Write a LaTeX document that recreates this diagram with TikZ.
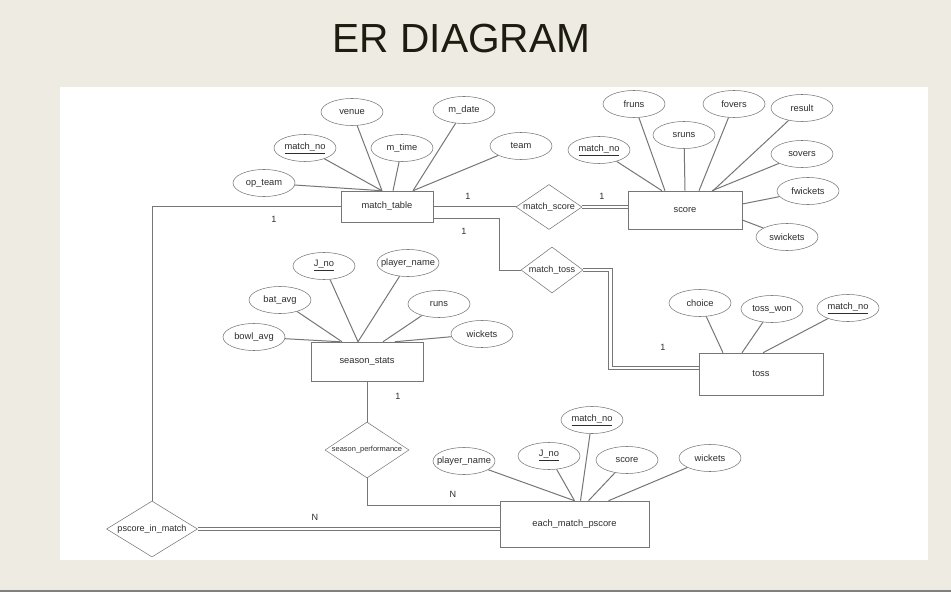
\documentclass[tikz,border=0pt]{standalone}
\usepackage{fontspec}
\setmainfont{Liberation Sans}
\usetikzlibrary{shapes.geometric, calc}

\definecolor{sfondo}{RGB}{238,235,227}
\definecolor{linea}{RGB}{118,118,118}
\definecolor{testo}{RGB}{45,45,45}
\definecolor{titolo}{RGB}{28,28,16}

\newcommand{\campo}[1]{\makebox[0pt]{#1}}
\newcommand{\chiave}[1]{\makebox[0pt]{\underline{#1}}}

\begin{document}
\begin{tikzpicture}[x=0.75pt, y=-0.75pt,
    attr/.style={draw=linea, ellipse, inner sep=0pt, minimum width=46.5pt, minimum height=20.25pt, text=testo, font=\fontsize{7}{8}\selectfont},
    ent/.style={draw=linea, rectangle, inner sep=0pt, text=testo, font=\fontsize{7}{8}\selectfont},
    rel/.style={draw=linea, diamond, inner sep=0pt, text=testo, font=\fontsize{6.8}{8}\selectfont},
    link/.style={draw=linea, line width=0.75pt},
    dlink/.style={draw=linea, line width=0.75pt, double=white, double distance=2pt},
    card/.style={text=testo, font=\fontsize{6.8}{8}\selectfont}]

    % Sfondo e pannello
    \useasboundingbox (0,0) rectangle (951,592);
    \fill[sfondo] (0,0) rectangle (951,592);
    \fill[white] (60,87) rectangle (928,560);
    \fill[gray] (0,590) rectangle (951,592);

    % Titolo
    \node[anchor=base, text=titolo, font=\fontsize{30.5}{36}\selectfont] (titolo) at (461.5,53) {ER DIAGRAM};

    % Entita
    \node[ent, minimum width=69pt, minimum height=23.25pt] (mt) at (387,206.5) {match\_table};
    \node[ent, minimum width=85.5pt, minimum height=28.5pt] (sc) at (685,210) {score};
    \node[ent, minimum width=93pt, minimum height=31.5pt] (toss) at (761,374) {toss};
    \node[ent, minimum width=84pt, minimum height=29.25pt] (ss) at (367,361.5) {season\_stats};
    \node[ent, minimum width=111.75pt, minimum height=34.5pt] (emp) at (574.5,524) {each\_match\_pscore};

    % Relazioni
    \node[rel, minimum width=49.5pt, minimum height=33.75pt] (msc) at (549,207) {\campo{match\_score}};
    \node[rel, minimum width=46.5pt, minimum height=34.5pt] (mtoss) at (552,270) {\campo{match\_toss}};
    \node[rel, minimum width=63pt, minimum height=42pt, font=\fontsize{5.6}{7}\selectfont] (sp) at (367,450) {\campo{season\_performance}};
    \node[rel, minimum width=68.25pt, minimum height=42pt] (pim) at (152,529) {\campo{pscore\_in\_match}};

    % Attributi di match_table
    \node[attr] (venue) at (352,112) {\campo{venue}};
    \node[attr] (mdate) at (464,110) {\campo{m\_date}};
    \node[attr] (mtno) at (305,148) {\chiave{match\_no}};
    \node[attr] (mtime) at (402,148) {\campo{m\_time}};
    \node[attr] (team) at (521,146) {\campo{team}};
    \node[attr] (opteam) at (264,183) {\campo{op\_team}};

    % Attributi di score
    \node[attr] (fruns) at (634,104) {\campo{fruns}};
    \node[attr] (sruns) at (684,135) {\campo{sruns}};
    \node[attr] (fovers) at (734,104) {\campo{fovers}};
    \node[attr] (result) at (802,108) {\campo{result}};
    \node[attr] (scno) at (599,150) {\chiave{match\_no}};
    \node[attr] (sovers) at (802,154) {\campo{sovers}};
    \node[attr] (fwickets) at (808,191) {\campo{fwickets}};
    \node[attr] (swickets) at (787,237) {\campo{swickets}};

    % Attributi di toss
    \node[attr] (choice) at (700,303) {\campo{choice}};
    \node[attr] (tosswon) at (772,309) {\campo{toss\_won}};
    \node[attr] (tossno) at (848,308) {\chiave{match\_no}};

    % Attributi di season_stats
    \node[attr] (jno) at (324,266) {\chiave{J\_no}};
    \node[attr] (pname) at (408,263) {\campo{player\_name}};
    \node[attr] (batavg) at (280,300) {\campo{bat\_avg}};
    \node[attr] (runs) at (439,304) {\campo{runs}};
    \node[attr] (bowlavg) at (254,337) {\campo{bowl\_avg}};
    \node[attr] (wickets) at (482,334) {\campo{wickets}};

    % Attributi di each_match_pscore
    \node[attr] (mno) at (592,420) {\chiave{match\_no}};
    \node[attr] (pname2) at (464,461) {\campo{player\_name}};
    \node[attr] (jno2) at (549,456) {\chiave{J\_no}};
    \node[attr] (score2) at (627,460) {\campo{score}};
    \node[attr] (wk2) at (710,458) {\campo{wickets}};

    % Linee attributi
    \draw[link] (venue) -- ($(mt.north)+(-5,0)$);
    \draw[link] (mtno) -- ($(mt.north)+(-5,0)$);
    \draw[link] (opteam) -- ($(mt.north)+(-5,0)$);
    \draw[link] (mtime) -- ($(mt.north)+(6,0)$);
    \draw[link] (mdate) -- ($(mt.north)+(26,0)$);
    \draw[link] (team) -- ($(mt.north)+(26,0)$);

    \draw[link] (scno) -- ($(sc.north)+(-23,0)$);
    \draw[link] (fruns) -- ($(sc.north)+(-20,0)$);
    \draw[link] (sruns) -- (sc.north);
    \draw[link] (fovers) -- ($(sc.north)+(14,0)$);
    \draw[link] (result) -- ($(sc.north)+(28,0)$);
    \draw[link] (sovers) -- ($(sc.north)+(27,0)$);
    \draw[link] (fwickets) -- ($(sc.east)+(0,-6)$);
    \draw[link] (swickets) -- ($(sc.east)+(0,10)$);

    \draw[link] (choice) -- ($(toss.north)+(-38,0)$);
    \draw[link] (tosswon) -- ($(toss.north)+(-19,0)$);
    \draw[link] (tossno) -- ($(toss.north)+(2,0)$);

    \draw[link] (bowlavg) -- ($(ss.north)+(-27,0)$);
    \draw[link] (batavg) -- ($(ss.north)+(-25,0)$);
    \draw[link] (jno) -- ($(ss.north)+(-9,0)$);
    \draw[link] (pname) -- ($(ss.north)+(-9,0)$);
    \draw[link] (runs) -- ($(ss.north)+(16,0)$);
    \draw[link] (wickets) -- ($(ss.north)+(28,0)$);

    \draw[link] (pname2) -- (emp.north);
    \draw[link] (jno2) -- (emp.north);
    \draw[link] (mno) -- ($(emp.north)+(6,0)$);
    \draw[link] (score2) -- ($(emp.north)+(14,0)$);
    \draw[link] (wk2) -- ($(emp.north)+(34,0)$);

    % Linee relazioni
    \draw[link] (mt.east |- msc.west) -- (msc.west);
    \draw[dlink] (msc.east) -- (msc.east -| sc.west);
    \draw[link] ($(mt.south east)+(0,-4)$) -| ($(mtoss.west)+(-21,0)$) -- (mtoss.west);
    \draw[dlink] (mtoss.east) -- ++(27,0) |- ($(toss.west)+(0,-6)$);
    \draw[link] (mt.west) -| (pim.north);
    \draw[dlink] (pim.east) -- (pim.east -| emp.west);
    \draw[link] (ss.south) -- (sp.north);
    \draw[link] (sp.south) |- ($(emp.west)+(0,-19)$);

    % Cardinalita
    \node[card] (c1) at (468,196) {1};
    \node[card] (c2) at (602,196) {1};
    \node[card] (c3) at (464,231) {1};
    \node[card] (c4) at (274,219) {1};
    \node[card] (c5) at (663,347) {1};
    \node[card] (c6) at (398,396) {1};
    \node[card] (c7) at (453,494) {N};
    \node[card] (c8) at (315,517) {N};
\end{tikzpicture}
\end{document}
